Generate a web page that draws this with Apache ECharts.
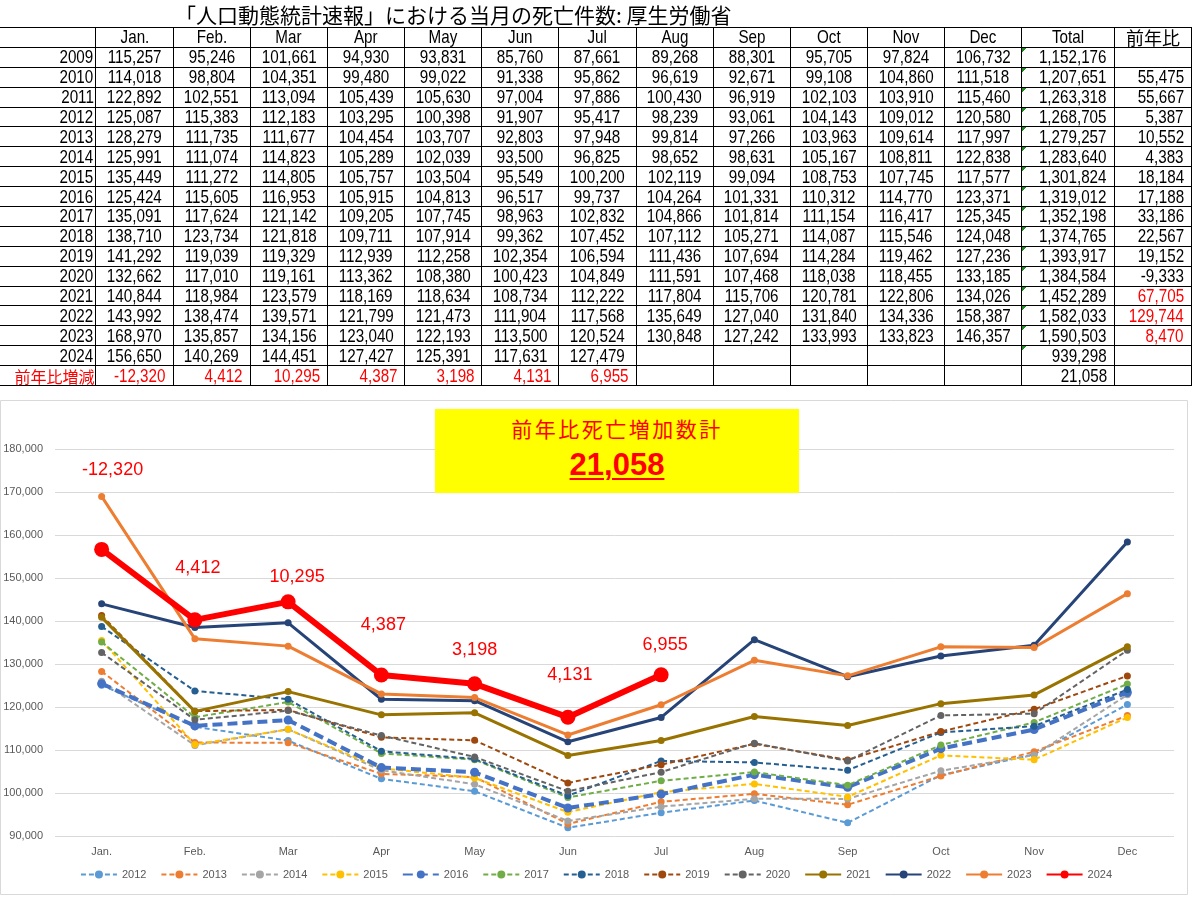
<!DOCTYPE html>
<html><head><meta charset="utf-8">
<script src="https://cdn.jsdelivr.net/npm/echarts@6/dist/echarts.min.js"></script>
<style>
html,body{margin:0;padding:0;background:#fff;}
#chart{position:absolute;left:0;top:0;width:1192px;height:897px;}
#top{position:absolute;left:0;top:0;width:1192px;height:386px;background:#fff;z-index:2;}
#title{position:absolute;top:1px;left:175px;font-family:"Noto Sans CJK JP";font-size:21px;line-height:26px;color:#000;white-space:nowrap;}
#tbl{position:absolute;left:0;top:27px;border-collapse:collapse;table-layout:fixed;font-family:"Liberation Sans",Arial,sans-serif;font-size:19px;color:#000;}
#tbl td{border:1px solid #000;height:18.9px;padding:0;line-height:18px;white-space:nowrap;text-align:center;}
#tbl td.yr{border-left:none;text-align:right;padding-right:2px;}
#tbl td.r{text-align:right;padding-right:7px;}
#tbl td.red{color:#f00;}
#tbl td.g{background-image:linear-gradient(135deg,#1f8a1f 0,#1f8a1f 3px,transparent 3px);background-repeat:no-repeat;background-size:6px 6px;}
#tbl td.jp{font-family:"Noto Sans CJK JP";font-size:18px;}
#tbl td.jps{font-family:"Noto Sans CJK JP";font-size:16px;padding-right:1px;}
.n{display:inline-block;transform:scaleX(0.8);transform-origin:50% 50%;}
td.r .n, td.yr .n{transform-origin:100% 50%;}
#box{position:absolute;left:435px;top:409px;width:364px;height:84px;background:#ffff00;z-index:3;text-align:center;color:#ff0000;}
#box1{position:absolute;left:0;width:364px;top:6px;font-family:"Noto Sans CJK JP";font-size:21px;line-height:26px;letter-spacing:2.5px;}
#box2{position:absolute;left:0;width:364px;top:38px;font-family:"Liberation Sans",Arial,sans-serif;font-weight:bold;font-size:31px;line-height:36px;text-decoration:underline;text-decoration-thickness:2px;text-underline-offset:3px;}
</style>
</head><body>
<div id="chart"></div>
<div id="top"><div id="title">「人口動態統計速報」における当月の死亡件数: 厚生労働省</div><table id="tbl"></table></div>
<div id="box"><div id="box1"></div><div id="box2"></div></div>
<script>
// ---- data ----
const months = ['Jan.','Feb.','Mar','Apr','May','Jun','Jul','Aug','Sep','Oct','Nov','Dec'];
const tableHeaderExtra = ['Total','前年比'];
const diffRowLabel = '前年比増減';
const boxTitle = '前年比死亡増加数計';
const y2009 = [115257,95246,101661,94930,93831,85760,87661,89268,88301,95705,97824,106732];
const y2010 = [114018,98804,104351,99480,99022,91338,95862,96619,92671,99108,104860,111518];
const y2011 = [122892,102551,113094,105439,105630,97004,97886,100430,96919,102103,103910,115460];
const y2012 = [125087,115383,112183,103295,100398,91907,95417,98239,93061,104143,109012,120580];
const y2013 = [128279,111735,111677,104454,103707,92803,97948,99814,97266,103963,109614,117997];
const y2014 = [125991,111074,114823,105289,102039,93500,96825,98652,98631,105167,108811,122838];
const y2015 = [135449,111272,114805,105757,103504,95549,100200,102119,99094,108753,107745,117577];
const y2016 = [125424,115605,116953,105915,104813,96517,99737,104264,101331,110312,114770,123371];
const y2017 = [135091,117624,121142,109205,107745,98963,102832,104866,101814,111154,116417,125345];
const y2018 = [138710,123734,121818,109711,107914,99362,107452,107112,105271,114087,115546,124048];
const y2019 = [141292,119039,119329,112939,112258,102354,106594,111436,107694,114284,119462,127236];
const y2020 = [132662,117010,119161,113362,108380,100423,104849,111591,107468,118038,118455,133185];
const y2021 = [140844,118984,123579,118169,118634,108734,112222,117804,115706,120781,122806,134026];
const y2022 = [143992,138474,139571,121799,121473,111904,117568,135649,127040,131840,134336,158387];
const y2023 = [168970,135857,134156,123040,122193,113500,120524,130848,127242,133993,133823,146357];
const y2024 = [156650,140269,144451,127427,125391,117631,127479];
const totals = [1152176,1207651,1263318,1268705,1279257,1283640,1301824,1319012,1352198,1374765,1393917,1384584,1452289,1582033,1590503,939298];
const yoy = [null,55475,55667,5387,10552,4383,18184,17188,33186,22567,19152,-9333,67705,129744,8470,null];
const diff2024 = [-12320,4412,10295,4387,3198,4131,6955];
const diffTotal = 21058;
const tableYears = ['2009','2010','2011','2012','2013','2014','2015','2016','2017','2018','2019','2020','2021','2022','2023','2024'];
const chartYears = ['2012','2013','2014','2015','2016','2017','2018','2019','2020','2021','2022','2023','2024'];
const yTicks = [90000,100000,110000,120000,130000,140000,150000,160000,170000,180000];

// ---- helpers ----
const rows = [y2009,y2010,y2011,y2012,y2013,y2014,y2015,y2016,y2017,y2018,y2019,y2020,y2021,y2022,y2023,y2024];
const fmt = v => (v===null||v===undefined) ? '' : v.toLocaleString('en-US');
const sp = t => t==='' ? '' : '<span class="n">'+t+'</span>';
const redYoy = ['2021','2022','2023'];

// ---- table ----
(function(){
  const colW = [96].concat(months.map(()=>77.2)).concat([92,77]);
  let h = '<colgroup>' + colW.map(w=>'<col style="width:'+w+'px">').join('') + '</colgroup>';
  h += '<tr><td class="yr"></td>' + months.map(m=>'<td>'+sp(m)+'</td>').join('') +
       '<td>'+sp(tableHeaderExtra[0])+'</td><td class="jp">'+tableHeaderExtra[1]+'</td></tr>';
  tableYears.forEach((yr,i)=>{
    const r = rows[i];
    h += '<tr><td class="yr">'+sp(yr)+'</td>';
    for(let m=0;m<12;m++) h += '<td>'+sp(fmt(r[m]))+'</td>';
    h += '<td class="r g">'+sp(fmt(totals[i]))+'</td>';
    h += '<td class="r'+(redYoy.includes(yr)?' red':'')+'">'+sp(fmt(yoy[i]))+'</td></tr>';
  });
  h += '<tr><td class="yr red jps">'+diffRowLabel+'</td>';
  for(let m=0;m<12;m++) h += '<td class="r red">'+sp(fmt(diff2024[m]))+'</td>';
  h += '<td class="r">'+sp(fmt(diffTotal))+'</td><td></td></tr>';
  document.getElementById('tbl').innerHTML = h;
})();

// ---- yellow box ----
document.getElementById('box1').textContent = boxTitle;
document.getElementById('box2').textContent = fmt(diff2024.reduce((a,b)=>a+b,0));

// ---- chart ----
const seriesStyle = {
  '2012':{c:'#5B9BD5',w:2,dash:[5,3],s:7},
  '2013':{c:'#ED7D31',w:2,dash:[5,3],s:7},
  '2014':{c:'#A5A5A5',w:2,dash:[5,3],s:7},
  '2015':{c:'#FFC000',w:2,dash:[5,3],s:7},
  '2016':{c:'#4472C4',w:4,dash:[10,5],s:9},
  '2017':{c:'#70AD47',w:2,dash:[5,3],s:7},
  '2018':{c:'#255E91',w:2,dash:[5,3],s:7},
  '2019':{c:'#9E480E',w:2,dash:[5,3],s:7},
  '2020':{c:'#636363',w:2,dash:[5,3],s:7},
  '2021':{c:'#997300',w:3,dash:'solid',s:7},
  '2022':{c:'#264478',w:3,dash:'solid',s:7},
  '2023':{c:'#ED7D31',w:3,dash:'solid',s:7},
  '2024':{c:'#FF0000',w:6,dash:'solid',s:15}
};
const chartData = {'2012':y2012,'2013':y2013,'2014':y2014,'2015':y2015,'2016':y2016,'2017':y2017,'2018':y2018,'2019':y2019,'2020':y2020,'2021':y2021,'2022':y2022,'2023':y2023,'2024':y2024};
const labelOffsets = [[11,-79],[3,-52],[9,-25],[2,-50],[0,-34],[2,-42],[4,-30]];

const series = chartYears.map(yr=>{
  const st = seriesStyle[yr];
  const s = {
    name: yr, type:'line', data: chartData[yr],
    symbol:'circle', symbolSize: st.s, showSymbol:true,
    itemStyle:{color:st.c},
    lineStyle:{color:st.c,width:st.w,type:st.dash},
    emphasis:{disabled:true},
    z: yr==='2024'?5:2
  };
  if(yr==='2024'){
    s.label = {show:true, position:'inside', color:'#FF0000', fontSize:18,
      fontFamily:'"Liberation Sans", Arial, sans-serif',
      formatter: p => fmt(diff2024[p.dataIndex])};
    s.data = chartData[yr].map((v,i)=>({value:v, label:{offset:labelOffsets[i]}}));
  }
  return s;
});

const chart = echarts.init(document.getElementById('chart'), null, {renderer:'canvas'});
chart.setOption({
  animation:false,
  backgroundColor:'#fff',
  textStyle:{fontFamily:'"Liberation Sans", Arial, sans-serif'},
  graphic:[{type:'rect', shape:{x:0.5,y:400.5,width:1187,height:494}, style:{fill:'none',stroke:'#d9d9d9',lineWidth:1}, silent:true}],
  grid:{left:55,right:18,top:449,bottom:61,containLabel:false},
  xAxis:{type:'category',data:months,boundaryGap:true,
    axisLine:{show:false},axisTick:{show:false},
    axisLabel:{color:'#595959',fontSize:11,margin:10}},
  yAxis:{type:'value',min:yTicks[0],max:yTicks[yTicks.length-1],interval:10000,
    axisLine:{show:false},axisTick:{show:false},
    splitLine:{lineStyle:{color:'#d9d9d9',width:1}},
    axisLabel:{color:'#595959',fontSize:11,margin:12,formatter:v=>fmt(v)}},
  legend:{data:chartYears,bottom:12,left:'center',itemWidth:36,itemHeight:10,itemGap:14,
    textStyle:{color:'#595959',fontSize:11}},
  series: series
});
</script>
</body></html>
